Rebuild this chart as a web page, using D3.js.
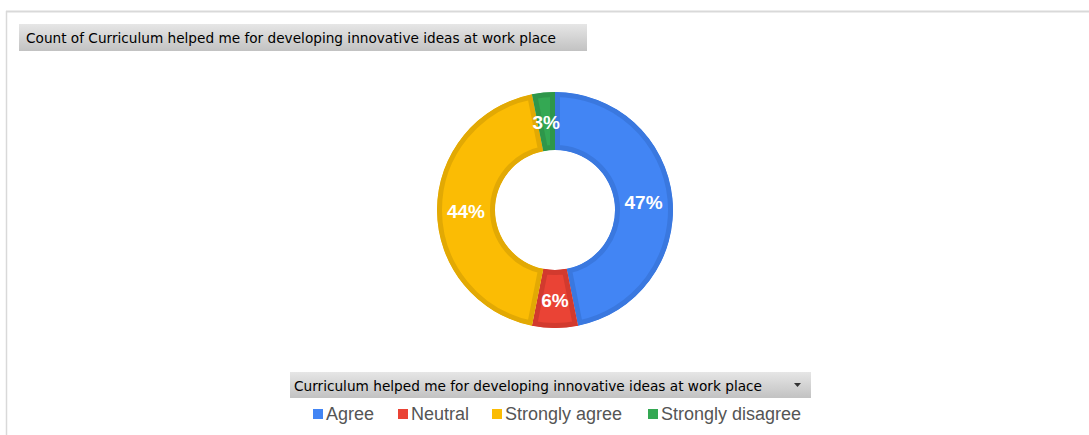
<!DOCTYPE html>
<html><head><meta charset="utf-8">
<script src="https://cdn.jsdelivr.net/npm/d3@7"></script>
<style>body{margin:0;background:#fff;}svg{display:block;}</style>
</head><body>
<svg id="c" width="1089" height="435"></svg>
<script>
const categories = ["Agree", "Neutral", "Strongly agree", "Strongly disagree"];
const counts = [15, 2, 14, 1];
const fills = ["#4285F4", "#EA4335", "#FBBC04", "#34A853"];
const strokes = ["#3a78df", "#d23a2e", "#e2a904", "#2e964a"];
const chartTitle = "Count of Curriculum helped me for developing innovative ideas at work place";
const fieldTitle = "Curriculum helped me for developing innovative ideas at work place";

const svg = d3.select("#c");
const defs = svg.append("defs");
const g = defs.append("linearGradient").attr("id","gb").attr("x1",0).attr("y1",0).attr("x2",0).attr("y2",1);
g.append("stop").attr("offset","0%").attr("stop-color","#e6e6e6");
g.append("stop").attr("offset","100%").attr("stop-color","#c2c2c2");

// frame
svg.append("line").attr("x1",6).attr("x2",1089).attr("y1",11.5).attr("y2",11.5).attr("stroke","#d9d9d9").attr("stroke-width",2);
svg.append("line").attr("x1",6.5).attr("x2",6.5).attr("y1",11).attr("y2",435).attr("stroke","#d9d9d9").attr("stroke-width",1.5);

// title box
svg.append("rect").attr("x",19).attr("y",24).attr("width",568).attr("height",27).attr("fill","url(#gb)");
svg.append("text").attr("x",26).attr("y",43).attr("font-family","DejaVu Sans Condensed, DejaVu Sans, sans-serif")
  .attr("font-size",13.5).attr("fill","#000").attr("textLength",530).attr("lengthAdjust","spacingAndGlyphs").text(chartTitle);

// donut
const cx = 555, cy = 210, rO = 118, rI = 60;
const total = d3.sum(counts);
const pie = d3.pie().sort(null).value(d => d)(counts);
const arc = d3.arc().innerRadius(rI).outerRadius(rO);
const gp = svg.append("g").attr("transform", `translate(${cx},${cy})`);
pie.forEach((d,i) => {
  defs.append("clipPath").attr("id","cl"+i).append("path").attr("d", arc(d));
});
gp.selectAll("path.s").data(pie).join("path").attr("class","s")
  .attr("d", arc).attr("fill",(d,i)=>fills[i])
  .attr("stroke",(d,i)=>strokes[i]).attr("stroke-width",10)
  .attr("clip-path",(d,i)=>`url(#cl${i})`);
const labelArc = d3.arc().innerRadius((rI+rO)/2).outerRadius((rI+rO)/2);
gp.selectAll("text").data(pie).join("text")
  .attr("transform", d => {
    const [x,y] = labelArc.centroid(d);
    return `translate(${x},${y})`;
  })
  .attr("text-anchor","middle").attr("dy","0.42em")
  .attr("font-family","Liberation Sans, Arial, sans-serif").attr("font-weight","bold")
  .attr("font-size",19).attr("fill","#fff")
  .text(d => d3.format(".0%")(d.data/total));

// legend field box
svg.append("rect").attr("x",290).attr("y",372).attr("width",521).attr("height",26).attr("fill","url(#gb)");
svg.append("text").attr("x",294).attr("y",391).attr("font-family","DejaVu Sans Condensed, DejaVu Sans, sans-serif")
  .attr("font-size",13.5).attr("fill","#000").attr("textLength",468).attr("lengthAdjust","spacingAndGlyphs").text(fieldTitle);
svg.append("path").attr("d","M794,383 L801,383 L797.5,387 Z").attr("fill","#333");

// legend items
const legX = [313, 398, 492, 648];
const leg = svg.append("g");
categories.forEach((c,i) => {
  leg.append("rect").attr("x",legX[i]).attr("y",409).attr("width",10).attr("height",10).attr("fill",fills[i]);
  leg.append("text").attr("x",legX[i]+13).attr("y",420).attr("font-family","Liberation Sans, Arial, sans-serif")
    .attr("font-size",18).attr("fill","#555").text(c);
});
</script>
</body></html>
